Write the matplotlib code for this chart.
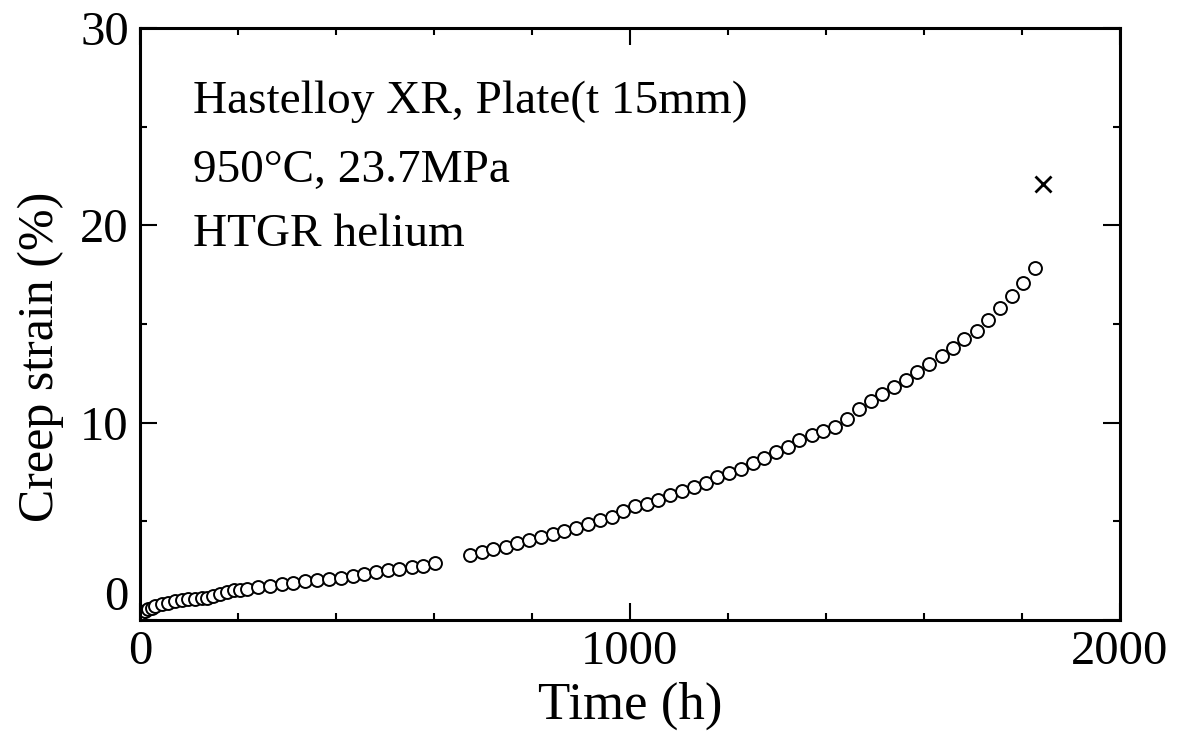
import numpy as np
import matplotlib.pyplot as plt
from matplotlib.ticker import MultipleLocator

# creep data
t1 = [3, 10, 17, 24, 31, 44, 58, 71, 85, 99, 112, 126, 136, 150, 163, 177,
      191, 204, 218, 241, 265, 290, 312, 337, 361, 386, 410, 435, 457, 482,
      506, 529, 555, 578, 602]
s1 = [0.35, 0.45, 0.57, 0.63, 0.69, 0.79, 0.86, 0.96, 1.03, 1.06, 1.08, 1.10,
      1.13, 1.20, 1.33, 1.41, 1.50, 1.53, 1.58, 1.67, 1.71, 1.81, 1.85, 1.95,
      2.05, 2.09, 2.14, 2.23, 2.33, 2.43, 2.52, 2.57, 2.66, 2.76, 2.91]
t2 = [673, 698, 720, 747, 769, 794, 818, 843, 865, 890, 914, 939, 963, 986,
      1010, 1035, 1057, 1082, 1106, 1131, 1155, 1178, 1202, 1227, 1251, 1273,
      1298, 1322, 1345, 1371, 1394, 1418, 1443, 1467, 1492, 1514, 1539, 1563,
      1586, 1610, 1637, 1659, 1682, 1708, 1731, 1755, 1780, 1802, 1827]
s2 = [3.30, 3.44, 3.59, 3.69, 3.88, 4.03, 4.18, 4.37, 4.52, 4.67, 4.86, 5.06,
      5.21, 5.51, 5.76, 5.90, 6.10, 6.35, 6.55, 6.74, 6.94, 7.24, 7.43, 7.63,
      7.93, 8.23, 8.53, 8.77, 9.12, 9.37, 9.57, 9.76, 10.2, 10.7, 11.1, 11.46,
      11.8, 12.16, 12.56, 12.96, 13.36, 13.8, 14.26, 14.66, 15.2, 15.8, 16.4,
      17.06, 17.86]
# rupture
t_rup = [1843]
s_rup = [22.1]

plt.rc('font', family=['Liberation Serif', 'DejaVu Serif'])
fig = plt.figure(figsize=(11.78, 7.35), dpi=100)
ax = fig.add_axes([0.1188, 0.1565, 0.8319, 0.8055])

t = np.array(t1 + t2)
s = np.array(s1 + s2)
ax.plot(t, s, 'o', mfc='white', mec='black', ms=9.3, mew=1.4, ls='none')
ax.plot(t_rup, s_rup, 'x', color='black', ms=11, mew=2.0)

ax.set_xlim(0, 2000)
ax.set_ylim(0, 30)
ax.xaxis.set_major_locator(MultipleLocator(1000))
ax.xaxis.set_minor_locator(MultipleLocator(200))
ax.yaxis.set_major_locator(MultipleLocator(10))
ax.yaxis.set_minor_locator(MultipleLocator(5))
ax.tick_params(which='both', direction='in', top=True, right=True,
               width=1.5, labelsize=35)
ax.tick_params(which='major', length=12)
ax.tick_params(which='minor', length=5)
ax.tick_params(axis='x', pad=7)
ax.tick_params(axis='y', pad=8)
for sp in ax.spines.values():
    sp.set_linewidth(2.2)

ax.set_xlabel('Time (h)', fontsize=38)
ax.set_ylabel('Creep strain (%)', fontsize=36)
ax.xaxis.set_label_coords(0.5, -0.105)
ax.yaxis.set_label_coords(-0.077, 0.444)

ax.text(0.054, 0.856, 'Hastelloy XR, Plate(t 15mm)', transform=ax.transAxes,
        fontsize=34, va='baseline')
ax.text(0.054, 0.740, '950°C, 23.7MPa', transform=ax.transAxes,
        fontsize=34, va='baseline')
ax.text(0.054, 0.632, 'HTGR helium', transform=ax.transAxes,
        fontsize=34, va='baseline')

# lift the y "0" label off the corner like the original
fig.canvas.draw()
for tk in ax.yaxis.get_major_ticks():
    if tk.get_loc() == 0:
        tk.label1.set_verticalalignment('bottom')

plt.savefig('out.png', dpi=100)
